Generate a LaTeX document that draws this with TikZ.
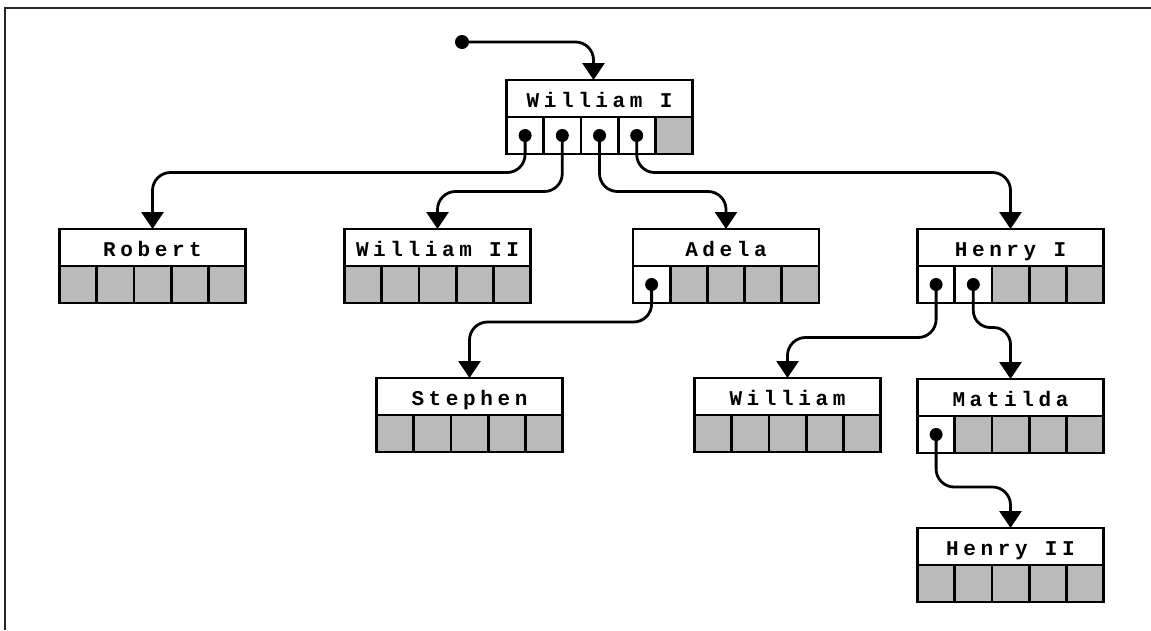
\documentclass[tikz,border=0pt]{standalone}
\usepackage{fontspec}
\usepackage{tikz}
\usetikzlibrary{arrows.meta,calc}
\newfontfamily\recfont{Liberation Mono Bold}[LetterSpace=22]
\definecolor{cellgray}{gray}{0.73}
\definecolor{framegray}{gray}{0.15}

\tikzset{
  labelbox/.style={draw, fill=white, line width=2.8pt, minimum width=186pt,
    minimum height=37pt, inner sep=0pt, outer sep=0pt, anchor=north,
    text height=17pt, text depth=0pt,
    font=\recfont\fontsize{21}{24}\selectfont},
  cellbox/.style={draw, line width=2.8pt, minimum width=37.2pt,
    minimum height=37pt, inner sep=0pt, outer sep=0pt, anchor=north west},
  ptr/.style={line width=2.8pt, rounded corners=18pt,
    -{Triangle[width=22pt,length=17pt]}},
}

% record: name, position of top edge, label, number of pointer cells
\newcommand{\record}[4]{%
  \node[labelbox] (#1) at (#2) {#3};
  \foreach \i in {1,...,5}{
    \ifnum\i>#4\relax\def\cellfill{cellgray}\else\def\cellfill{white}\fi
    \node[cellbox, fill=\cellfill] (#1-\i) at ([xshift={(\i-1)*37.2pt}]#1.south west) {};
    \ifnum\i>#4\relax\else\fill (#1-\i.center) circle (6.5pt);\fi
  }
}

\begin{document}
\begin{tikzpicture}[x=1pt,y=-1pt]
    \useasboundingbox (0,0) rectangle (1151,630);
    \draw[line width=2.8pt, framegray] (5,630) -- (5,8) -- (1151,8);

    \record{wone}{599.5,80}{William I}{4}
    \record{robert}{152.5,229}{Robert}{0}
    \record{wtwo}{437.5,229}{William II}{0}
    \record{adela}{726,229}{Adela}{1}
    \record{henry}{1010.5,229}{Henry I}{2}
    \record{stephen}{469.5,378}{Stephen}{0}
    \record{william}{787.5,378}{William}{0}
    \record{matilda}{1010.5,379}{Matilda}{1}
    \record{henrytwo}{1010.5,528}{Henry II}{0}

    \coordinate (root) at (462,42);
    \fill (root) circle (7pt);
    \draw[ptr] (root) -| ([xshift=-6pt]wone.north);

    \draw[ptr] (wone-1.center) -- ++(0,37) -| (robert.north);
    \draw[ptr] (wone-2.center) -- ++(0,56) -| (wtwo.north);
    \draw[ptr] (wone-3.center) -- ++(0,56) -| (adela.north);
    \draw[ptr] (wone-4.center) -- ++(0,37) -| (henry.north);
    \draw[ptr] (adela-1.center) -- ++(0,37.5) -| (stephen.north);
    \draw[ptr] (henry-1.center) -- ++(0,53) -| (william.north);
    \draw[ptr, rounded corners=17pt] (henry-2.center) -- ++(0,43) -| (matilda.north);
    \draw[ptr] (matilda-1.center) -- ++(0,52.5) -| (henrytwo.north);
  \end{tikzpicture}
\end{document}
